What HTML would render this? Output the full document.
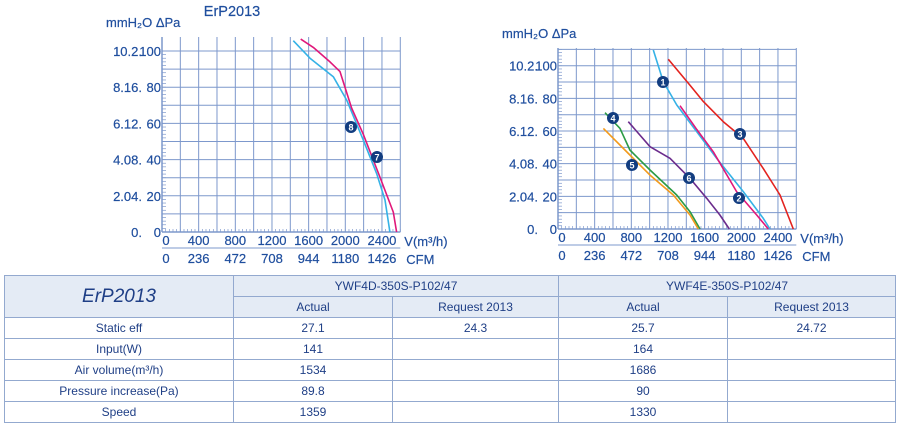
<!DOCTYPE html>
<html><head><meta charset="utf-8">
<style>
html,body{margin:0;padding:0;background:#fff;width:900px;height:425px;overflow:hidden;font-family:"Liberation Sans",Arial,sans-serif;}
svg{position:absolute;left:0;top:0;}
text{font-family:"Liberation Sans",Arial,sans-serif;fill:#1f4e9e;}
table{position:absolute;left:4px;top:275px;width:891px;border-collapse:collapse;table-layout:fixed;color:#1f3f86;font-size:12px;}
td{border:1px solid #93a9cf;text-align:center;padding:0;height:20px;line-height:20px;}
.hd td{background:#e4ebf5;}
.erp{font-style:italic;font-size:19px;}
</style></head><body>
<svg id="chart" width="900" height="275" viewBox="0 0 900 275"></svg>
<table>
<colgroup><col style="width:229px"><col style="width:159px"><col style="width:166px"><col style="width:169px"><col style="width:168px"></colgroup>
<tr class="hd" style="height:21px"><td rowspan="2" class="erp">ErP2013</td><td colspan="2">YWF4D-350S-P102/47</td><td colspan="2">YWF4E-350S-P102/47</td></tr>
<tr class="hd" style="height:21px"><td>Actual</td><td>Request 2013</td><td>Actual</td><td>Request 2013</td></tr>
<tr><td>Static eff</td><td>27.1</td><td>24.3</td><td>25.7</td><td>24.72</td></tr>
<tr><td>Input(W)</td><td>141</td><td></td><td>164</td><td></td></tr>
<tr><td>Air volume(m³/h)</td><td>1534</td><td></td><td>1686</td><td></td></tr>
<tr><td>Pressure increase(Pa)</td><td>89.8</td><td></td><td>90</td><td></td></tr>
<tr><td>Speed</td><td>1359</td><td></td><td>1330</td><td></td></tr>
</table>
<script>
// data
const xTicks = [0,400,800,1200,1600,2000,2400];
const cfmTicks = ["0","236","472","708","944","1180","1426"];
const paTicks = [0,20,40,60,80,100];
const mmTicks = ["0","2.04","4.08","6.12","8.16","10.2"];
const c8x = [1433,1615,1869,2015,2196,2342,2433,2487];
const c8y = [105.7,96,85.8,72.9,50.8,32.4,17.7,0];
const c7x = [1513,1651,1833,1942,2069,2196,2378,2524,2560];
const c7y = [106.6,102,94,88.6,68.5,54,30.4,11,0];
const c1x = [1040,1149,1295,1513,1731,2022,2240,2313];
const c1y = [109.6,90.2,76,59.6,43.3,22.9,6.5,0];
const c2x = [1331,1513,1695,1949,2168,2295];
const c2y = [75.5,61,47.3,22.9,8.6,0];
const c3x = [1204,1440,1586,1804,2022,2240,2422,2567];
const c3y = [104,88,78,65.7,55.5,37,20.8,0];
const c4x = [513,676,785,1004,1295,1440,1549];
const c4y = [71.2,61.6,48.4,36.1,20.8,10.6,0];
const c5x = [495,785,1004,1258,1440,1531];
const c5y = [61.6,45.3,33,20.8,8.6,0];
const c6x = [767,1004,1222,1440,1622,1767,1869];
const c6y = [65.7,50.4,43.3,31,18.8,8.6,0];

const svg = document.getElementById('chart');
const NS = 'http://www.w3.org/2000/svg';
function mk(tag, attrs, parent){const e=document.createElementNS(NS,tag);for(const k in attrs)e.setAttribute(k,attrs[k]);(parent||svg).appendChild(e);return e;}
function txt(s,x,y,anchor,size,parent){const t=mk('text',{x:x,y:y,'text-anchor':anchor||'start','font-size':size||13,'stroke':'#1f4e9e','stroke-width':0.2},parent);t.textContent=s;return t;}

function drawChart(cfg){
  const g = mk('g',{});
  
  
  const sx = v => cfg.x0 + v*cfg.kx;
  const sy = v => cfg.y0 - v*cfg.ky;
  const grid='#7d98cc';
  for(let v=0; v<=2600; v+=200){ mk('line',{x1:sx(v),x2:sx(v),y1:cfg.top,y2:cfg.y0,stroke:grid,'stroke-width':1},g); }
  for(let v=0; v<=cfg.ymax; v+=10){ mk('line',{x1:cfg.x0,x2:sx(2600),y1:sy(v),y2:sy(v),stroke:grid,'stroke-width':1},g); }
  mk('line',{x1:cfg.x0,x2:cfg.x0,y1:cfg.top,y2:cfg.y0,stroke:grid,'stroke-width':1.5},g);
  mk('line',{x1:cfg.x0,x2:sx(2600),y1:cfg.y0,y2:cfg.y0,stroke:grid,'stroke-width':1.5},g);
  for(let v=0; v<=cfg.ymax; v+=2){ mk('line',{x1:cfg.x0,x2:cfg.x0+4,y1:sy(v),y2:sy(v),stroke:grid,'stroke-width':0.7},g); }
  for(let v=0; v<=2600; v+=40){ mk('line',{x1:sx(v),x2:sx(v),y1:cfg.y0,y2:cfg.y0-3,stroke:grid,'stroke-width':0.7},g); }
  mk('line',{x1:cfg.x0,x2:sx(2600),y1:cfg.y0+16,y2:cfg.y0+16,stroke:grid,'stroke-width':1},g);
  xTicks.forEach((v,i)=>{
    const a = txt(String(v), sx(v)+(v===0?4:0), cfg.y0+13,'middle',13,g);
    
    
    const b = txt(cfmTicks[i], sx(v)+(v===0?4:0), cfg.y0+31,'middle',13,g);
    
    
  });
  paTicks.forEach((v,i)=>{
    const a = txt(String(v), cfg.x0-1, sy(v)+5,'end',13,g);
    
    
    const b = txt(mmTicks[i]+'.', cfg.x0-20, sy(v)+5,'end',13,g);
    
    
  });
  const u = txt('mmH₂O  ΔPa', cfg.x0-56, cfg.top-10,'start',13,g);
  
  
  const vx = txt('V(m³/h)', sx(2600)+4, cfg.y0+14,'start',13,g);
  
  
  const cf = txt('CFM', sx(2600)+6, cfg.y0+32,'start',13,g);
  
  
  cfg.series.forEach(s=>{
    const d = s.xs.map((x,i)=>(i?'L':'M')+sx(x).toFixed(1)+','+sy(s.ys[i]).toFixed(1)).join(' ');
    const p = mk('path',{d:d,fill:'none',stroke:s.color,'stroke-width':1.6,'stroke-linejoin':'round'},g);
    
    
    const c = mk('circle',{cx:s.bx,cy:s.by,r:6,fill:'#123d80'},g);
    
    
    const t = mk('text',{x:s.bx,y:s.by+3.5,'text-anchor':'middle','font-size':9,'font-weight':'bold',style:'fill:#fff'},g);
    t.textContent = s.label;
  });
}
const ttl = txt('ErP2013', 232, 16, 'middle', 14.5);


drawChart({name:'left-chart',x0:162,y0:232,kx:18.33/200,ky:1.81,top:37,ymax:100,series:[
  {label:'8',xs:c8x,ys:c8y,color:'#35b2e6',bx:351,by:127},
  {label:'7',xs:c7x,ys:c7y,color:'#e0187a',bx:377,by:157}]});
drawChart({name:'right-chart',x0:558,y0:229,kx:18.33/200,ky:1.633,top:48,ymax:110,series:[
  {label:'1',xs:c1x,ys:c1y,color:'#35b2e6',bx:663,by:82},
  {label:'2',xs:c2x,ys:c2y,color:'#e0187a',bx:739,by:198},
  {label:'3',xs:c3x,ys:c3y,color:'#e3231f',bx:740,by:134},
  {label:'4',xs:c4x,ys:c4y,color:'#2c9b45',bx:613,by:118},
  {label:'5',xs:c5x,ys:c5y,color:'#f29a1c',bx:632,by:165},
  {label:'6',xs:c6x,ys:c6y,color:'#6b2c8c',bx:689,by:178}]});
</script>
</body></html>
